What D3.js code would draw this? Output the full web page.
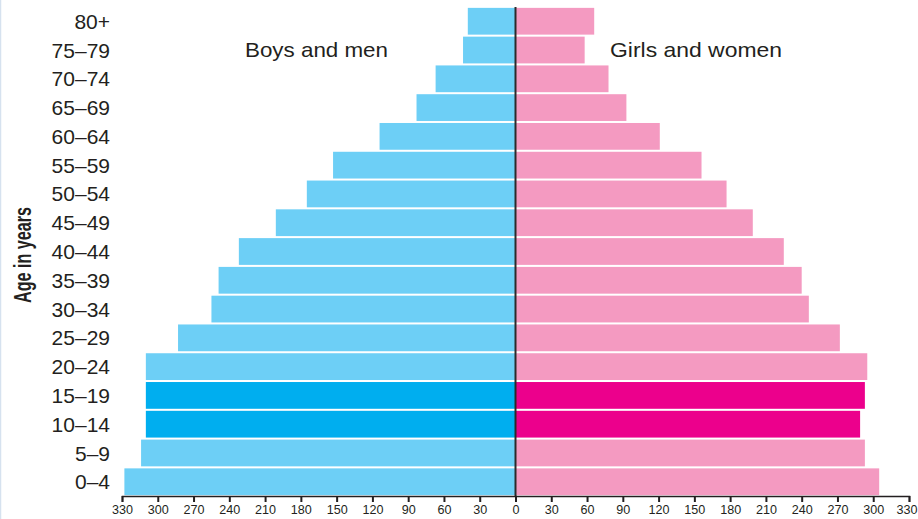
<!DOCTYPE html>
<html>
<head>
<meta charset="utf-8">
<script src="https://cdn.jsdelivr.net/npm/d3@7"></script>
<style>
  body { margin: 0; background: #fff; }
  svg { display: block; }
  text { font-family: "Liberation Sans", Arial, sans-serif; fill: #231f20; }
</style>
</head>
<body>
<svg id="chart" width="918" height="519"></svg>
<script>
// age groups, top to bottom
var ageGroups = ["80+", "75\u201379", "70\u201374", "65\u201369", "60\u201364", "55\u201359", "50\u201354",
    "45\u201349", "40\u201344", "35\u201339", "30\u201334", "25\u201329", "20\u201324", "15\u201319",
    "10\u201314", "5\u20139", "0\u20134"];

var males   = [40, 44, 67, 83, 114, 153, 175, 201, 232, 249, 255, 283, 310, 310, 310, 314, 328];
var females = [66, 58, 78, 93, 121, 156, 177, 199, 225, 240, 246, 272, 295, 293, 289, 293, 305];

// highlighted groups
var highlight = ["15\u201319", "10\u201314"];

var tickValues = [0, 30, 60, 90, 120, 150, 180, 210, 240, 270, 300, 330];

var svg = d3.select("#chart"),
    centerX = 515.5,
    pxPerUnit = 393.5 / 330;

var xLeft = d3.scaleLinear().domain([0, 330]).range([centerX, centerX - 330 * pxPerUnit]);
var xRight = d3.scaleLinear().domain([0, 330]).range([centerX, centerX + 330 * pxPerUnit]);

var y = d3.scaleBand()
    .domain(ageGroups)
    .range([7, 496])
    .paddingInner(0.07)
    .paddingOuter(0.03);

// frame line on the left edge
svg.append("line")
    .attr("x1", 0.5).attr("x2", 0.5)
    .attr("y1", 0).attr("y2", 519)
    .attr("stroke", "#d6e2ef").attr("stroke-width", 1.5);

// male bars
svg.selectAll(".male")
    .data(ageGroups)
    .enter().append("rect")
    .attr("class", "male")
    .attr("x", function(d, i) { return xLeft(males[i]); })
    .attr("y", function(d) { return y(d); })
    .attr("width", function(d, i) { return xLeft(0) - xLeft(males[i]); })
    .attr("height", y.bandwidth())
    .attr("fill", function(d) { return highlight.indexOf(d) >= 0 ? "#00aeef" : "#6dcff6"; });

// female bars
svg.selectAll(".female")
    .data(ageGroups)
    .enter().append("rect")
    .attr("class", "female")
    .attr("x", xRight(0))
    .attr("y", function(d) { return y(d); })
    .attr("width", function(d, i) { return xRight(females[i]) - xRight(0); })
    .attr("height", y.bandwidth())
    .attr("fill", function(d) { return highlight.indexOf(d) >= 0 ? "#ec008c" : "#f49ac1"; });

// center line
svg.append("line")
    .attr("x1", centerX).attr("x2", centerX)
    .attr("y1", 7).attr("y2", 496)
    .attr("stroke", "#2b2b2b").attr("stroke-width", 2);

// x axes
var axisY = 496;
var axisLeft = d3.axisBottom(xLeft).tickValues(tickValues).tickSize(6).tickPadding(3);
var axisRight = d3.axisBottom(xRight).tickValues(tickValues.slice(1)).tickSize(6).tickPadding(3);

[axisLeft, axisRight].forEach(function(ax, k) {
    var g = svg.append("g")
        .attr("transform", "translate(0," + axisY + ")")
        .call(ax);
    g.select(".domain").attr("stroke", "#231f20").attr("stroke-width", 1.5);
    g.selectAll(".tick line").attr("stroke", "#231f20").attr("stroke-width", 2);
    g.selectAll(".tick text")
        .attr("fill", "#3a3550")
        .style("font-size", "13px")
        .attr("textLength", function(d) { return String(d).length * 7; })
        .attr("lengthAdjust", "spacingAndGlyphs");
    // pull the outermost right label inside the picture
    if (k == 1) {
        g.selectAll(".tick text")
            .filter(function(d) { return d == 330; })
            .attr("text-anchor", "end")
            .attr("x", 8);
    }
});

// age labels
svg.selectAll(".age")
    .data(ageGroups)
    .enter().append("text")
    .attr("class", "age")
    .attr("x", 110)
    .attr("y", function(d) { return y(d) + y.bandwidth() / 2; })
    .attr("dy", "0.36em")
    .attr("text-anchor", "end")
    .style("font-size", "21px")
    .text(function(d) { return d; });

// series labels
svg.append("text")
    .attr("x", 245).attr("y", 57)
    .style("font-size", "21px")
    .attr("textLength", 143)
    .attr("lengthAdjust", "spacingAndGlyphs")
    .text("Boys and men");

svg.append("text")
    .attr("x", 610).attr("y", 57)
    .style("font-size", "21px")
    .attr("textLength", 172)
    .attr("lengthAdjust", "spacingAndGlyphs")
    .text("Girls and women");

// y axis title
svg.append("text")
    .attr("transform", "translate(31,255) rotate(-90)")
    .attr("text-anchor", "middle")
    .style("font-size", "24px")
    .style("font-weight", "bold")
    .attr("textLength", 96)
    .attr("lengthAdjust", "spacingAndGlyphs")
    .text("Age in years");
</script>
</body>
</html>
